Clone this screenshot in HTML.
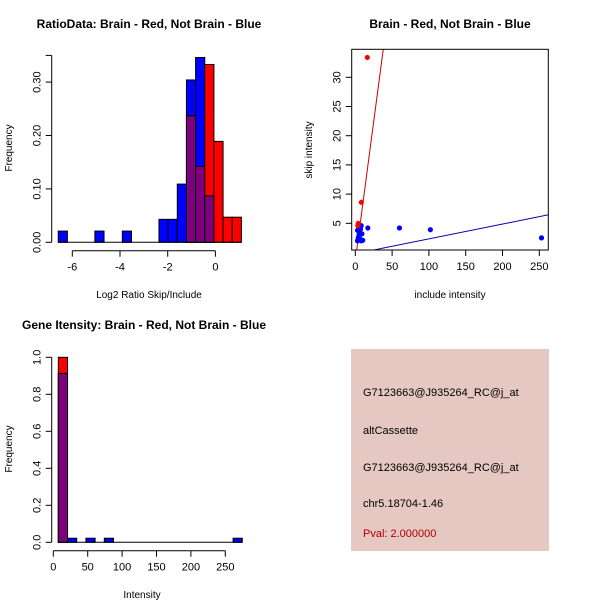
<!DOCTYPE html>
<html><head><meta charset="utf-8"><style>
html,body{margin:0;padding:0;background:#fff;}
svg{display:block;font-family:"Liberation Sans",sans-serif;}
</style></head><body>
<svg id="c" width="600" height="600" viewBox="0 0 600 600" xmlns="http://www.w3.org/2000/svg">
<rect width="600" height="600" fill="#fff"/>
<g id="p1"></g>
<g id="p2"></g>
<g id="p3"></g>
<g>
<rect x="351" y="349" width="198" height="202" fill="#e6c8c2"/>
<g font-size="11" fill="#000">
<text x="363" y="396">G7123663@J935264_RC@j_at</text>
<text x="363" y="434">altCassette</text>
<text x="363" y="471">G7123663@J935264_RC@j_at</text>
<text x="363" y="507">chr5.18704-1.46</text>
<text x="363" y="537" fill="#b00000">Pval: 2.000000</text>
</g></g>
</svg>
<script>
// ---- Plot 1 data ----
const r1Start = -6.59, r1Width = 0.384;
const r1Blue = [0.021,0,0,0,0.021,0,0,0.021,0,0,0,0.043,0.043,0.109,0.304,0.346,0.087,0,0,0];
const r1Red  = [0,0,0,0,0,0,0,0,0,0,0,0,0,0,0.237,0.142,0.333,0.189,0.047,0.047];
const r1XTicks = [-6,-4,-2,0];
const r1YTicks = [0,0.1,0.2,0.3];
// ---- Plot 2 data ----
const redX = [16.3,8.2,4,3.5];
const redY = [33.4,8.6,5.0,4.6];
const blueX = [17,60,102,253,3,4,5,6,7,8,9,10,4,6,8,3,5];
const blueY = [4.2,4.2,3.9,2.5,2.0,2.5,3.0,3.5,4.0,4.6,3.2,2.1,2.2,2.4,2.0,3.8,4.4];
const redLine = [0.953,-1.4];
const blueLine = [0.0254,-0.21];
const sXTicks = [0,50,100,150,200,250];
const sYTicks = [5,10,15,20,25,30];
// ---- Plot 3 data ----
const g3Start = 7.3, g3Width = 13.37;
const g3Blue = [0.913,0.022,0,0.022,0,0.022,0,0,0,0,0,0,0,0,0,0,0,0,0,0.022];
const g3Red  = [1.0,0,0,0,0,0,0,0,0,0,0,0,0,0,0,0,0,0,0,0];
const g3XTicks = [0,50,100,150,200,250];
const g3YTicks = [0,0.2,0.4,0.6,0.8,1.0];

const NS="http://www.w3.org/2000/svg";
function mk(parent,tag,attrs,text){const e=document.createElementNS(NS,tag);for(const k in attrs)e.setAttribute(k,attrs[k]);if(text!==undefined)e.textContent=text;parent.appendChild(e);return e;}
function fmt(v,d){return v.toFixed(d);}

function hist(g,o){
  const X=v=>o.x0+(v-o.xd0)*o.xs, Y=v=>o.y0-v*o.ys;
  for(let i=0;i<o.blue.length;i++){
    const a=o.start+i*o.width, b=a+o.width;
    const bl=o.blue[i], rd=o.red[i], mn=Math.min(bl,rd);
    if(bl>0){const e=mk(g,'rect',{x:X(a),y:Y(bl),width:X(b)-X(a),height:Y(0)-Y(bl),fill:'#0000ff',stroke:'#000','stroke-width':1});
      
      }
    if(rd>0){const e=mk(g,'rect',{x:X(a),y:Y(rd),width:X(b)-X(a),height:Y(0)-Y(rd),fill:'#ff0000',stroke:'#000','stroke-width':1});
      
      }
    if(mn>0){const e=mk(g,'rect',{x:X(a),y:Y(mn),width:X(b)-X(a),height:Y(0)-Y(mn),fill:'#7f007f',stroke:'#000','stroke-width':1});
      
      }
  }
  const ya=mk(g,'g',{});
  
  
  const yt=o.yTicks;
  mk(ya,'line',{x1:o.yAxisX,x2:o.yAxisX,y1:Y(yt[0]),y2:Y(yt[yt.length-1]),stroke:'#000'});
  yt.forEach(v=>{mk(ya,'line',{x1:o.yAxisX-6,x2:o.yAxisX,y1:Y(v),y2:Y(v),stroke:'#000'});
    const t=mk(ya,'text',{x:o.yAxisX-11,y:Y(v),'font-size':11,'text-anchor':'middle',transform:`rotate(-90 ${o.yAxisX-11} ${Y(v)})`},fmt(v,o.yDec));
    
    });
  if(o.extraTop){mk(ya,'line',{x1:o.yAxisX,x2:o.yAxisX,y1:Y(yt[yt.length-1]),y2:Y(o.extraTop),stroke:'#000'});
    mk(ya,'line',{x1:o.yAxisX-6,x2:o.yAxisX,y1:Y(o.extraTop),y2:Y(o.extraTop),stroke:'#000'});}
  const xa=mk(g,'g',{});
  
  
  const xt=o.xTicks;
  mk(xa,'line',{x1:X(xt[0]),x2:X(xt[xt.length-1]),y1:o.xAxisY,y2:o.xAxisY,stroke:'#000'});
  xt.forEach(v=>{mk(xa,'line',{x1:X(v),x2:X(v),y1:o.xAxisY,y2:o.xAxisY+6,stroke:'#000'});
    const t=mk(xa,'text',{x:X(v),y:o.xAxisY+20,'font-size':11,'text-anchor':'middle'},String(v));
    
    });
  mk(g,'line',{x1:X(o.start),x2:X(o.start+o.width*o.blue.length),y1:Y(0),y2:Y(0),stroke:'#000'});
}

const p1=document.getElementById('p1');
hist(p1,{x0:72.3,xd0:-6,xs:23.85,y0:242.3,ys:534,start:r1Start,width:r1Width,blue:r1Blue,red:r1Red,
  xTicks:r1XTicks,yTicks:r1YTicks,yDec:2,yAxisX:51.7,xAxisY:250.7,extraTop:0.35});
mk(p1,'text',{x:149,y:28,'font-size':12,'font-weight':'bold','text-anchor':'middle'},'RatioData: Brain - Red, Not Brain - Blue');
mk(p1,'text',{x:149,y:298,'font-size':10,'text-anchor':'middle'},'Log2 Ratio Skip/Include');
mk(p1,'text',{x:12,y:148,'font-size':10,'text-anchor':'middle',transform:'rotate(-90 12 148)'},'Frequency');

const p3=document.getElementById('p3');
hist(p3,{x0:53.3,xd0:0,xs:0.688,y0:542.3,ys:185,start:g3Start,width:g3Width,blue:g3Blue,red:g3Red,
  xTicks:g3XTicks,yTicks:g3YTicks,yDec:1,yAxisX:51.7,xAxisY:550.7});
mk(p3,'text',{x:144,y:329,'font-size':12,'font-weight':'bold','text-anchor':'middle'},'Gene Itensity: Brain - Red, Not Brain - Blue');
mk(p3,'text',{x:142,y:598,'font-size':10,'text-anchor':'middle'},'Intensity');
mk(p3,'text',{x:12,y:449,'font-size':10,'text-anchor':'middle',transform:'rotate(-90 12 449)'},'Frequency');

const p2=document.getElementById('p2');
const L=351.7,R=548.3,T=49.3,B=250;
const SX=v=>355.3+v*0.736, SY=v=>252.5-v*5.84;
const cp=mk(p2,'clipPath',{id:'clip2'});mk(cp,'rect',{x:L,y:T,width:R-L,height:B-T});
const pl=mk(p2,'g',{'clip-path':'url(#clip2)'});
function drawLine(c,col,name){const x1=-10,x2=300;const e=mk(pl,'line',{x1:SX(x1),y1:SY(c[0]*x1+c[1]),x2:SX(x2),y2:SY(c[0]*x2+c[1]),stroke:col,'stroke-width':1});
  
  }
drawLine(redLine,'#cc0000','red-fit-line');
drawLine(blueLine,'#0000aa','blue-fit-line');
blueX.forEach((x,i)=>{const e=mk(pl,'circle',{cx:SX(x),cy:SY(blueY[i]),r:2.6,fill:'#0000ff'});
  
  });
redX.forEach((x,i)=>{const e=mk(pl,'circle',{cx:SX(x),cy:SY(redY[i]),r:2.6,fill:'#ff0000'});
  
  });
mk(p2,'rect',{x:L,y:T,width:R-L,height:B-T,fill:'none',stroke:'#000'});
sXTicks.forEach(v=>{mk(p2,'line',{x1:SX(v),x2:SX(v),y1:B,y2:B+6,stroke:'#000'});
  const t=mk(p2,'text',{x:SX(v),y:B+20,'font-size':11,'text-anchor':'middle'},String(v));
  
  });
sYTicks.forEach(v=>{mk(p2,'line',{x1:L-6,x2:L,y1:SY(v),y2:SY(v),stroke:'#000'});
  const t=mk(p2,'text',{x:L-11,y:SY(v),'font-size':11,'text-anchor':'middle',transform:`rotate(-90 ${L-11} ${SY(v)})`},String(v));
  
  });
mk(p2,'text',{x:450,y:28,'font-size':12,'font-weight':'bold','text-anchor':'middle'},'Brain - Red, Not Brain - Blue');
mk(p2,'text',{x:450,y:298,'font-size':10,'text-anchor':'middle'},'include intensity');
mk(p2,'text',{x:312,y:150,'font-size':10,'text-anchor':'middle',transform:'rotate(-90 312 150)'},'skip intensity');
</script>
</body></html>
